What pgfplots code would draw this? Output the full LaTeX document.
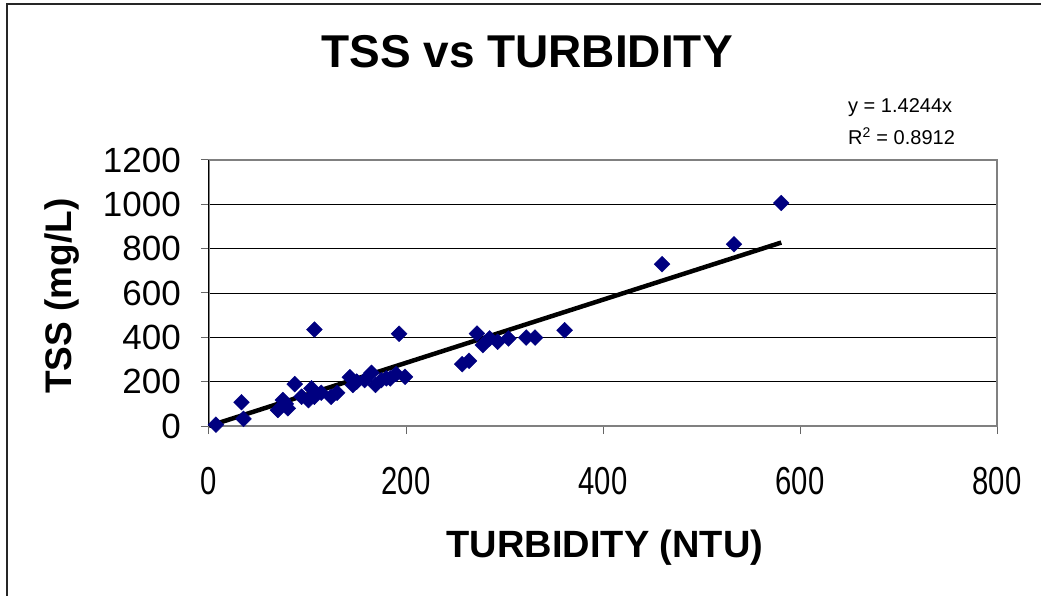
\documentclass[border=0pt]{standalone}
\usepackage{fontspec}
\setmainfont{Liberation Sans}
\usepackage{graphicx}
\usepackage{pgfplots}
\pgfplotsset{compat=1.18}
\definecolor{navy}{RGB}{0,0,128}
\begin{document}
\begin{tikzpicture}
\begin{axis}[
  scale only axis,
  width=788bp, height=266bp,
  xmin=0, xmax=800, ymin=0, ymax=1200,
  xtick={0,200,400,600,800},
  ytick={0,200,400,600,800,1000,1200},
  xtick pos=left, ytick pos=left,
  /pgf/number format/assume math mode=true,
  /pgf/number format/1000 sep={},
  tick align=outside,
  major tick length=8bp,
  tick style={black!60, line width=1bp},
  axis line style={black!50, line width=1.5bp},
  ymajorgrids,
  major grid style={black, line width=0.8bp},
  xticklabel={\scalebox{0.75}[1]{\pgfmathprintnumber{\tick}}},
  xticklabel style={font=\fontsize{39bp}{45bp}\selectfont, anchor=north, inner sep=0pt, yshift=-33bp},
  yticklabel style={font=\fontsize{35bp}{40bp}\selectfont, anchor=east, inner sep=0pt, xshift=-20bp},
  clip=false,
]
\addplot[only marks, mark=square*, mark size=5.6bp, mark options={rotate=45, fill=navy, draw=navy}] coordinates {
(7,6) (33,107) (35,32) (70,72) (75,117) (78,100) (80,80) (87,189) (94,132)
(101,117) (104,170) (107,132) (107,435) (114,150) (124,132) (130,150)
(143,220) (146,185) (150,200) (158,207) (165,240) (169,185) (175,207)
(180,215) (184,215) (190,235) (193,416) (199,222) (257,279) (264,294)
(272,417) (278,365) (285,395) (293,380) (304,395) (322,399) (331,399)
(361,432) (460,730) (533,820) (581,1006)
};
\addplot[black, line width=4.5bp] coordinates {(0,0) (581,827.6)};
\draw[black, line width=1bp] (axis cs:0,0) -- (axis cs:0,1200);
\end{axis}
\path[use as bounding box] (-209bp,-170bp) rectangle (832bp,426bp);
\draw[black!85, line width=2bp] (-202bp,-175bp) -- (-202bp,422bp) -- (840bp,422bp);
\node[font=\fontsize{46bp}{52bp}\selectfont\bfseries] at (318bp,374bp) {TSS vs TURBIDITY};
\node[font=\fontsize{38bp}{44bp}\selectfont\bfseries] at (396bp,-122bp) {TURBIDITY (NTU)};
\node[font=\fontsize{37bp}{44bp}\selectfont\bfseries, rotate=90] at (-147bp,130bp) {TSS (mg/L)};
\node[font=\fontsize{20bp}{24bp}\selectfont, anchor=base west, inner sep=0pt] at (639bp,313bp) {y = 1.4244x};
\node[font=\fontsize{20bp}{24bp}\selectfont, anchor=base west, inner sep=0pt] at (639bp,281bp) {R\textsuperscript{2} = 0.8912};
\end{tikzpicture}
\end{document}
